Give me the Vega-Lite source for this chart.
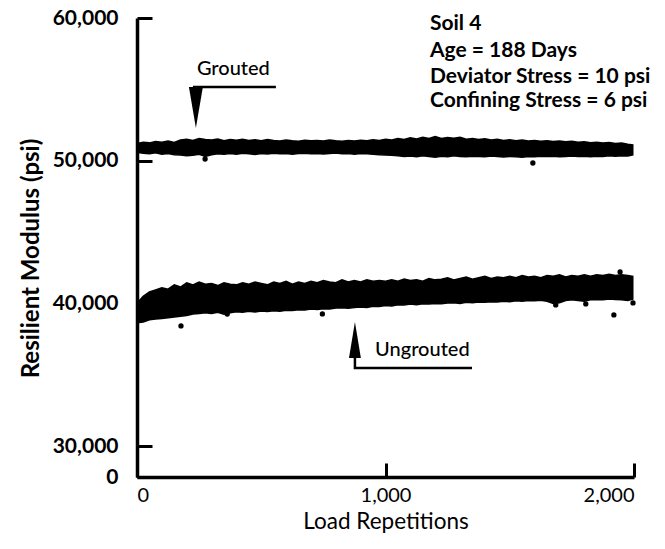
{
  "$schema": "https://vega.github.io/schema/vega-lite/v6.json",
  "width": 497,
  "height": 459,
  "autosize": "none",
  "padding": {"left": 137, "top": 18, "right": 31, "bottom": 72},
  "config": {
    "font": "Lato",
    "view": {"stroke": null},
    "axis": {"grid": false, "domainColor": "black", "tickColor": "black", "labelColor": "black", "titleColor": "black"}
  },
  "datasets": {
    "bands": [
      {"series": "Grouted", "reps": 0, "hi": 51200, "lo": 50600},
      {"series": "Grouted", "reps": 25, "hi": 51300, "lo": 50520},
      {"series": "Grouted", "reps": 50, "hi": 51250, "lo": 50480},
      {"series": "Grouted", "reps": 75, "hi": 51350, "lo": 50550},
      {"series": "Grouted", "reps": 100, "hi": 51300, "lo": 50450},
      {"series": "Grouted", "reps": 125, "hi": 51380, "lo": 50500},
      {"series": "Grouted", "reps": 150, "hi": 51280, "lo": 50420},
      {"series": "Grouted", "reps": 175, "hi": 51450, "lo": 50400},
      {"series": "Grouted", "reps": 200, "hi": 51500, "lo": 50350},
      {"series": "Grouted", "reps": 225, "hi": 51420, "lo": 50380},
      {"series": "Grouted", "reps": 250, "hi": 51550, "lo": 50450},
      {"series": "Grouted", "reps": 275, "hi": 51480, "lo": 50300},
      {"series": "Grouted", "reps": 300, "hi": 51450, "lo": 50420},
      {"series": "Grouted", "reps": 325, "hi": 51520, "lo": 50480},
      {"series": "Grouted", "reps": 350, "hi": 51400, "lo": 50450},
      {"series": "Grouted", "reps": 375, "hi": 51480, "lo": 50500},
      {"series": "Grouted", "reps": 400, "hi": 51430, "lo": 50460},
      {"series": "Grouted", "reps": 425, "hi": 51500, "lo": 50520},
      {"series": "Grouted", "reps": 450, "hi": 51420, "lo": 50480},
      {"series": "Grouted", "reps": 475, "hi": 51460, "lo": 50440},
      {"series": "Grouted", "reps": 500, "hi": 51400, "lo": 50500},
      {"series": "Grouted", "reps": 525, "hi": 51480, "lo": 50470},
      {"series": "Grouted", "reps": 550, "hi": 51420, "lo": 50520},
      {"series": "Grouted", "reps": 575, "hi": 51380, "lo": 50480},
      {"series": "Grouted", "reps": 600, "hi": 51450, "lo": 50510},
      {"series": "Grouted", "reps": 625, "hi": 51400, "lo": 50460},
      {"series": "Grouted", "reps": 650, "hi": 51360, "lo": 50500},
      {"series": "Grouted", "reps": 675, "hi": 51440, "lo": 50530},
      {"series": "Grouted", "reps": 700, "hi": 51390, "lo": 50480},
      {"series": "Grouted", "reps": 725, "hi": 51420, "lo": 50510},
      {"series": "Grouted", "reps": 750, "hi": 51380, "lo": 50470},
      {"series": "Grouted", "reps": 775, "hi": 51450, "lo": 50500},
      {"series": "Grouted", "reps": 800, "hi": 51400, "lo": 50540},
      {"series": "Grouted", "reps": 825, "hi": 51360, "lo": 50480},
      {"series": "Grouted", "reps": 850, "hi": 51420, "lo": 50510},
      {"series": "Grouted", "reps": 875, "hi": 51380, "lo": 50460},
      {"series": "Grouted", "reps": 900, "hi": 51440, "lo": 50500},
      {"series": "Grouted", "reps": 925, "hi": 51400, "lo": 50480},
      {"series": "Grouted", "reps": 950, "hi": 51460, "lo": 50450},
      {"series": "Grouted", "reps": 975, "hi": 51420, "lo": 50420},
      {"series": "Grouted", "reps": 1000, "hi": 51500, "lo": 50400},
      {"series": "Grouted", "reps": 1025, "hi": 51450, "lo": 50380},
      {"series": "Grouted", "reps": 1050, "hi": 51550, "lo": 50350},
      {"series": "Grouted", "reps": 1075, "hi": 51480, "lo": 50300},
      {"series": "Grouted", "reps": 1100, "hi": 51600, "lo": 50330},
      {"series": "Grouted", "reps": 1125, "hi": 51520, "lo": 50280},
      {"series": "Grouted", "reps": 1150, "hi": 51650, "lo": 50350},
      {"series": "Grouted", "reps": 1175, "hi": 51560, "lo": 50300},
      {"series": "Grouted", "reps": 1200, "hi": 51700, "lo": 50250},
      {"series": "Grouted", "reps": 1225, "hi": 51550, "lo": 50320},
      {"series": "Grouted", "reps": 1250, "hi": 51620, "lo": 50280},
      {"series": "Grouted", "reps": 1275, "hi": 51580, "lo": 50350},
      {"series": "Grouted", "reps": 1300, "hi": 51650, "lo": 50300},
      {"series": "Grouted", "reps": 1325, "hi": 51500, "lo": 50270},
      {"series": "Grouted", "reps": 1350, "hi": 51560, "lo": 50320},
      {"series": "Grouted", "reps": 1375, "hi": 51480, "lo": 50300},
      {"series": "Grouted", "reps": 1400, "hi": 51540, "lo": 50280},
      {"series": "Grouted", "reps": 1425, "hi": 51450, "lo": 50330},
      {"series": "Grouted", "reps": 1450, "hi": 51500, "lo": 50300},
      {"series": "Grouted", "reps": 1475, "hi": 51420, "lo": 50260},
      {"series": "Grouted", "reps": 1500, "hi": 51460, "lo": 50300},
      {"series": "Grouted", "reps": 1525, "hi": 51400, "lo": 50280},
      {"series": "Grouted", "reps": 1550, "hi": 51450, "lo": 50250},
      {"series": "Grouted", "reps": 1575, "hi": 51380, "lo": 50300},
      {"series": "Grouted", "reps": 1600, "hi": 51420, "lo": 50280},
      {"series": "Grouted", "reps": 1625, "hi": 51360, "lo": 50320},
      {"series": "Grouted", "reps": 1650, "hi": 51400, "lo": 50290},
      {"series": "Grouted", "reps": 1675, "hi": 51340, "lo": 50310},
      {"series": "Grouted", "reps": 1700, "hi": 51380, "lo": 50280},
      {"series": "Grouted", "reps": 1725, "hi": 51320, "lo": 50300},
      {"series": "Grouted", "reps": 1750, "hi": 51360, "lo": 50330},
      {"series": "Grouted", "reps": 1775, "hi": 51300, "lo": 50290},
      {"series": "Grouted", "reps": 1800, "hi": 51320, "lo": 50310},
      {"series": "Grouted", "reps": 1825, "hi": 51260, "lo": 50280},
      {"series": "Grouted", "reps": 1850, "hi": 51300, "lo": 50320},
      {"series": "Grouted", "reps": 1875, "hi": 51240, "lo": 50300},
      {"series": "Grouted", "reps": 1900, "hi": 51280, "lo": 50340},
      {"series": "Grouted", "reps": 1925, "hi": 51200, "lo": 50310},
      {"series": "Grouted", "reps": 1950, "hi": 51240, "lo": 50350},
      {"series": "Grouted", "reps": 1975, "hi": 51150, "lo": 50330},
      {"series": "Grouted", "reps": 1995, "hi": 51100, "lo": 50400},
      {"series": "Ungrouted", "reps": 0, "hi": 40000, "lo": 38650},
      {"series": "Ungrouted", "reps": 25, "hi": 40500, "lo": 38700},
      {"series": "Ungrouted", "reps": 50, "hi": 40800, "lo": 38850},
      {"series": "Ungrouted", "reps": 75, "hi": 40950, "lo": 38900},
      {"series": "Ungrouted", "reps": 100, "hi": 41100, "lo": 38950},
      {"series": "Ungrouted", "reps": 125, "hi": 41000, "lo": 39000},
      {"series": "Ungrouted", "reps": 150, "hi": 41300, "lo": 39050},
      {"series": "Ungrouted", "reps": 175, "hi": 41150, "lo": 39100},
      {"series": "Ungrouted", "reps": 200, "hi": 41450, "lo": 39150},
      {"series": "Ungrouted", "reps": 225, "hi": 41300, "lo": 39250},
      {"series": "Ungrouted", "reps": 250, "hi": 41500, "lo": 39300},
      {"series": "Ungrouted", "reps": 275, "hi": 41350, "lo": 39350},
      {"series": "Ungrouted", "reps": 300, "hi": 41400, "lo": 39300},
      {"series": "Ungrouted", "reps": 325, "hi": 41250, "lo": 39380},
      {"series": "Ungrouted", "reps": 350, "hi": 41450, "lo": 39250},
      {"series": "Ungrouted", "reps": 375, "hi": 41350, "lo": 39350},
      {"series": "Ungrouted", "reps": 400, "hi": 41300, "lo": 39420},
      {"series": "Ungrouted", "reps": 425, "hi": 41450, "lo": 39380},
      {"series": "Ungrouted", "reps": 450, "hi": 41350, "lo": 39450},
      {"series": "Ungrouted", "reps": 475, "hi": 41500, "lo": 39400},
      {"series": "Ungrouted", "reps": 500, "hi": 41400, "lo": 39470},
      {"series": "Ungrouted", "reps": 525, "hi": 41300, "lo": 39430},
      {"series": "Ungrouted", "reps": 550, "hi": 41500, "lo": 39480},
      {"series": "Ungrouted", "reps": 575, "hi": 41400, "lo": 39450},
      {"series": "Ungrouted", "reps": 600, "hi": 41550, "lo": 39520},
      {"series": "Ungrouted", "reps": 625, "hi": 41350, "lo": 39500},
      {"series": "Ungrouted", "reps": 650, "hi": 41500, "lo": 39560},
      {"series": "Ungrouted", "reps": 675, "hi": 41400, "lo": 39530},
      {"series": "Ungrouted", "reps": 700, "hi": 41550, "lo": 39600},
      {"series": "Ungrouted", "reps": 725, "hi": 41450, "lo": 39580},
      {"series": "Ungrouted", "reps": 750, "hi": 41600, "lo": 39620},
      {"series": "Ungrouted", "reps": 775, "hi": 41500, "lo": 39600},
      {"series": "Ungrouted", "reps": 800, "hi": 41450, "lo": 39680},
      {"series": "Ungrouted", "reps": 825, "hi": 41650, "lo": 39700},
      {"series": "Ungrouted", "reps": 850, "hi": 41500, "lo": 39660},
      {"series": "Ungrouted", "reps": 875, "hi": 41600, "lo": 39720},
      {"series": "Ungrouted", "reps": 900, "hi": 41500, "lo": 39750},
      {"series": "Ungrouted", "reps": 925, "hi": 41650, "lo": 39720},
      {"series": "Ungrouted", "reps": 950, "hi": 41550, "lo": 39800},
      {"series": "Ungrouted", "reps": 975, "hi": 41600, "lo": 39780},
      {"series": "Ungrouted", "reps": 1000, "hi": 41550, "lo": 39850},
      {"series": "Ungrouted", "reps": 1025, "hi": 41650, "lo": 39820},
      {"series": "Ungrouted", "reps": 1050, "hi": 41550, "lo": 39900},
      {"series": "Ungrouted", "reps": 1075, "hi": 41700, "lo": 39880},
      {"series": "Ungrouted", "reps": 1100, "hi": 41600, "lo": 39950},
      {"series": "Ungrouted", "reps": 1125, "hi": 41650, "lo": 39900},
      {"series": "Ungrouted", "reps": 1150, "hi": 41550, "lo": 39980},
      {"series": "Ungrouted", "reps": 1175, "hi": 41750, "lo": 39950},
      {"series": "Ungrouted", "reps": 1200, "hi": 41650, "lo": 40000},
      {"series": "Ungrouted", "reps": 1225, "hi": 41700, "lo": 39980},
      {"series": "Ungrouted", "reps": 1250, "hi": 41800, "lo": 40020},
      {"series": "Ungrouted", "reps": 1275, "hi": 41650, "lo": 40050},
      {"series": "Ungrouted", "reps": 1300, "hi": 41750, "lo": 40000},
      {"series": "Ungrouted", "reps": 1325, "hi": 41850, "lo": 40080},
      {"series": "Ungrouted", "reps": 1350, "hi": 41700, "lo": 40050},
      {"series": "Ungrouted", "reps": 1375, "hi": 41800, "lo": 40100},
      {"series": "Ungrouted", "reps": 1400, "hi": 41900, "lo": 40080},
      {"series": "Ungrouted", "reps": 1425, "hi": 41750, "lo": 40120},
      {"series": "Ungrouted", "reps": 1450, "hi": 41850, "lo": 40100},
      {"series": "Ungrouted", "reps": 1475, "hi": 41800, "lo": 40150},
      {"series": "Ungrouted", "reps": 1500, "hi": 41900, "lo": 40120},
      {"series": "Ungrouted", "reps": 1525, "hi": 41800, "lo": 40180},
      {"series": "Ungrouted", "reps": 1550, "hi": 41950, "lo": 40150},
      {"series": "Ungrouted", "reps": 1575, "hi": 41850, "lo": 40200},
      {"series": "Ungrouted", "reps": 1600, "hi": 41900, "lo": 40180},
      {"series": "Ungrouted", "reps": 1625, "hi": 41800, "lo": 40220},
      {"series": "Ungrouted", "reps": 1650, "hi": 41950, "lo": 40150},
      {"series": "Ungrouted", "reps": 1675, "hi": 41900, "lo": 40000},
      {"series": "Ungrouted", "reps": 1700, "hi": 42000, "lo": 40050},
      {"series": "Ungrouted", "reps": 1725, "hi": 41850, "lo": 40200},
      {"series": "Ungrouted", "reps": 1750, "hi": 41950, "lo": 40250},
      {"series": "Ungrouted", "reps": 1775, "hi": 41900, "lo": 40200},
      {"series": "Ungrouted", "reps": 1800, "hi": 42000, "lo": 40150},
      {"series": "Ungrouted", "reps": 1825, "hi": 41900, "lo": 40250},
      {"series": "Ungrouted", "reps": 1850, "hi": 42000, "lo": 40280},
      {"series": "Ungrouted", "reps": 1875, "hi": 41950, "lo": 40250},
      {"series": "Ungrouted", "reps": 1900, "hi": 42050, "lo": 40300},
      {"series": "Ungrouted", "reps": 1925, "hi": 41950, "lo": 40280},
      {"series": "Ungrouted", "reps": 1950, "hi": 42000, "lo": 40250},
      {"series": "Ungrouted", "reps": 1975, "hi": 41950, "lo": 40200},
      {"series": "Ungrouted", "reps": 1995, "hi": 41900, "lo": 40300}
    ],
    "outliers": [
      {"reps": 177, "psi": 38420},
      {"reps": 363, "psi": 39250},
      {"reps": 746, "psi": 39260},
      {"reps": 1685, "psi": 39890},
      {"reps": 1806, "psi": 39960},
      {"reps": 1919, "psi": 39190},
      {"reps": 1944, "psi": 42200},
      {"reps": 1996, "psi": 40030},
      {"reps": 274, "psi": 50120},
      {"reps": 1593, "psi": 49840}
    ],
    "notes": [
      {"reps": 1179, "psi": 59580, "text": "Soil 4"},
      {"reps": 1179, "psi": 57690, "text": "Age = 188 Days"},
      {"reps": 1179, "psi": 55870, "text": "Deviator Stress = 10 psi"},
      {"reps": 1179, "psi": 54180, "text": "Confining Stress = 6 psi"}
    ],
    "callouts": [
      {"reps": 241, "psi": 56430, "text": "Grouted"},
      {"reps": 958, "psi": 36740, "text": "Ungrouted"}
    ],
    "leaders": [
      {"id": "g", "ord": 1, "reps": 225, "psi": 55165},
      {"id": "g", "ord": 2, "reps": 559, "psi": 55165},
      {"id": "u", "ord": 1, "reps": 877, "psi": 36300},
      {"id": "u", "ord": 2, "reps": 877, "psi": 35473},
      {"id": "u", "ord": 3, "reps": 1348, "psi": 35473}
    ],
    "arrowsDown": [{"reps": 237, "psi": 53728}],
    "arrowsUp": [{"reps": 877, "psi": 37436}]
  },
  "layer": [
    {
      "data": {"name": "bands"},
      "mark": {"type": "area", "color": "black", "interpolate": "linear", "stroke": "black", "strokeWidth": 1.5},
      "encoding": {
        "x": {
          "field": "reps", "type": "quantitative",
          "scale": {"domain": [0, 2000], "nice": false, "zero": false},
          "axis": {
            "values": [0, 1000, 2000], "labelExpr": "format(datum.value, ',')", "labelFlush": true,
            "tickSize": -14, "tickWidth": 3, "domainWidth": 3.5,
            "labelFontSize": 20, "labelFontWeight": "normal", "labelPadding": 22,
            "title": "Load Repetitions", "titleFontSize": 22.5, "titleFontWeight": "normal", "titlePadding": 5
          }
        },
        "y": {
          "field": "lo", "type": "quantitative",
          "scale": {"domain": [27835, 60000], "nice": false, "zero": false},
          "axis": {
            "values": [27835, 30000, 40000, 50000, 60000],
            "labelExpr": "datum.value < 29000 ? '0' : format(datum.value, ',')",
            "tickSize": -15, "tickWidth": 3, "domainWidth": 3.5,
            "labelFontSize": 21, "labelFontWeight": "bold", "labelPadding": 34,
            "title": "Resilient Modulus (psi)", "titleFontSize": 24, "titleFontWeight": "bold", "titlePadding": 9,
            "titleY": 240
          }
        },
        "y2": {"field": "hi"},
        "detail": {"field": "series"}
      }
    },
    {
      "data": {"name": "outliers"},
      "mark": {"type": "point", "filled": true, "color": "black", "size": 28, "opacity": 1},
      "encoding": {
        "x": {"field": "reps", "type": "quantitative"},
        "y": {"field": "psi", "type": "quantitative"}
      }
    },
    {
      "data": {"name": "leaders"},
      "mark": {"type": "line", "color": "black", "strokeWidth": 2.5},
      "encoding": {
        "x": {"field": "reps", "type": "quantitative"},
        "y": {"field": "psi", "type": "quantitative"},
        "detail": {"field": "id"},
        "order": {"field": "ord"}
      }
    },
    {
      "data": {"name": "arrowsDown"},
      "mark": {"type": "point", "filled": true, "color": "black", "opacity": 1, "size": 1681, "shape": "M-0.34,-1L0.34,-1L0,1Z"},
      "encoding": {
        "x": {"field": "reps", "type": "quantitative"},
        "y": {"field": "psi", "type": "quantitative"}
      }
    },
    {
      "data": {"name": "arrowsUp"},
      "mark": {"type": "point", "filled": true, "color": "black", "opacity": 1, "size": 1296, "shape": "M-0.33,1L0.33,1L0,-1Z"},
      "encoding": {
        "x": {"field": "reps", "type": "quantitative"},
        "y": {"field": "psi", "type": "quantitative"}
      }
    },
    {
      "data": {"name": "callouts"},
      "mark": {"type": "text", "align": "left", "baseline": "middle", "fontSize": 20, "fontWeight": 500, "color": "black"},
      "encoding": {
        "x": {"field": "reps", "type": "quantitative"},
        "y": {"field": "psi", "type": "quantitative"},
        "text": {"field": "text"}
      }
    },
    {
      "data": {"name": "notes"},
      "mark": {"type": "text", "align": "left", "baseline": "middle", "fontSize": 21, "fontWeight": "bold", "color": "black"},
      "encoding": {
        "x": {"field": "reps", "type": "quantitative"},
        "y": {"field": "psi", "type": "quantitative"},
        "text": {"field": "text"}
      }
    }
  ]
}
